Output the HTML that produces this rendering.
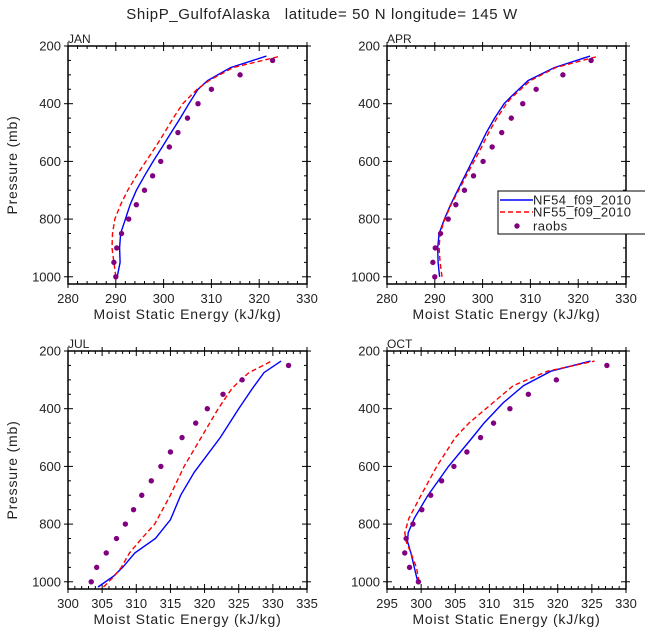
<!DOCTYPE html>
<html><head><meta charset="utf-8"><style>
html,body{margin:0;padding:0;background:#fff;width:645px;height:640px;overflow:hidden}
svg{display:block;font-family:"Liberation Sans",sans-serif;fill:#222}
svg text{white-space:pre}
</style></head><body>
<svg id="c" width="645" height="640">
<text x="322" y="19" text-anchor="middle" font-size="15" letter-spacing="0.6">ShipP_GulfofAlaska   latitude= 50 N longitude= 145 W</text>
</svg>
<script>
const months = ["JAN","APR","JUL","OCT"];
const xRanges = [[280,330],[280,330],[300,335],[295,330]];
const xTickStep = [10,10,5,5];
const yTicks = [200,400,600,800,1000];
const obsP = [1000,950,900,850,800,750,700,650,600,550,500,450,400,350,300,250];
const janObs = [290,289.6,290.2,291.2,292.7,294.3,296,297.7,299.4,301.2,303,305,307.2,310,316,322.8];
const aprObs = [290,289.6,290.1,291.2,292.8,294.4,296.2,298.1,300.1,302,304,306,308.4,311.2,316.8,322.7];
const julObs = [303.4,304.2,305.6,307.1,308.4,309.6,310.8,312.2,313.6,315,316.7,318.7,320.4,322.7,325.5,332.3];
const octObs = [299.6,298.3,297.6,297.8,298.8,300.1,301.4,303,304.8,306.7,308.7,310.6,313,315.7,319.8,327.2];
const janP = [1000,950,900,850,800,750,700,650,600,550,500,450,400,350,320,275,235];
const janBlue = [290.3,290.9,290.8,291,292,293,294.3,296,297.8,299.7,301.6,303.5,305.3,307.2,309.2,314,321.5];
const janRed = [290,289.6,289.2,289.3,289.8,291,292.5,294.3,296.3,298.3,300.2,302,304,307,309.5,314.5,324.5];
const aprP = [1000,950,900,850,800,750,700,650,600,550,500,450,400,380,320,275,235];
const aprBlue = [291,290.7,290.6,290.9,292,293.3,294.8,296.3,297.8,299.3,300.8,302.5,304.5,305.7,309.5,315,322.5];
const aprRed = [291.5,291.1,290.9,291.1,292.1,293.4,295,296.6,298.2,299.8,301.3,303,305,306,310,315.3,324.3];
const julBlueP = [1018,980,950,900,850,785,700,620,500,400,330,275,235];
const julBlue = [304.4,306.7,308,309.8,312.8,315,316.5,318.5,322.3,325,327,328.7,331.2];
const julRedP = [1018,980,950,900,850,800,700,600,500,400,330,300,275,235];
const julRed = [305.2,306.8,307.8,309,310.8,312.7,315,317,319.5,322,324,325.3,326.5,329.8];
const octP = [1000,950,900,860,830,780,700,600,500,450,380,320,270,235];
const octBlue = [299.5,299,298.5,298,298.1,299,301,304,307.5,309.2,312,315,319,324.8];
const octRed = [299.7,299.3,298.5,297.8,297.6,298.2,300,302.3,305,307,310.5,313.5,318.5,325.4];
const series = [
 {bp:janP,b:janBlue,rp:janP,r:janRed,o:janObs},
 {bp:aprP,b:aprBlue,rp:aprP,r:aprRed,o:aprObs},
 {bp:julBlueP,b:julBlue,rp:julRedP,r:julRed,o:julObs},
 {bp:octP,b:octBlue,rp:octP,r:octRed,o:octObs}];
const panelBoxes=[[68,46],[387,46],[68,351],[387,351]];
const NS="http://www.w3.org/2000/svg";
const svg=document.getElementById('c');
function mk(t,a,parent){const e=document.createElementNS(NS,t);for(const k in a)e.setAttribute(k,a[k]);(parent||svg).appendChild(e);return e;}
const W=239,H=238,P0=200,P1=1025;
months.forEach((m,i)=>{
 const [L,T]=panelBoxes[i];const [x0,x1]=xRanges[i];
 const g=mk('g',{});
 
 
 const X=v=>L+(v-x0)/(x1-x0)*W, Y=p=>T+(p-P0)/(P1-P0)*H;
 const box=mk('rect',{x:L,y:T,width:W,height:H,fill:'none',stroke:'#000','stroke-width':1.5},g);
 
 
 for(let p=200;p<=1000;p+=50){const y=Y(p);const maj=p%200==0;const len=maj?5:3;
  mk('line',{x1:L-(maj?4:0),x2:L+len,y1:y,y2:y,stroke:'#000'},g);
  mk('line',{x1:L+W+(maj?4:0),x2:L+W-len,y1:y,y2:y,stroke:'#000'},g);}
 yTicks.forEach(p=>{const t=mk('text',{x:L-7,y:Y(p)+4.5,'text-anchor':'end','font-size':13},g);t.textContent=p;
  
  });
 const minor=xTickStep[i]/5;
 for(let v=x0;v<=x1+1e-6;v+=minor){const x=X(v);const maj=Math.abs(Math.round(v/xTickStep[i])*xTickStep[i]-v)<1e-6;const len=maj?5:3;
  mk('line',{x1:x,x2:x,y1:T+H+(maj?4:0),y2:T+H-len,stroke:'#000'},g);
  mk('line',{x1:x,x2:x,y1:T-(maj?4:0),y2:T+len,stroke:'#000'},g);
  if(maj){const t=mk('text',{x:x,y:T+H+19,'text-anchor':'middle','font-size':13},g);t.textContent=Math.round(v);
   
   }}
 const lab=mk('text',{x:L,y:T-3,'font-size':12},g);lab.textContent=m;
 
 
 const xt=mk('text',{x:L+W/2,y:T+H+35,'text-anchor':'middle','font-size':14,'letter-spacing':0.8},g);xt.textContent='Moist Static Energy (kJ/kg)';
 
 
 if(i%2==0){const yt=mk('text',{x:0,y:0,'text-anchor':'middle','font-size':14,'letter-spacing':0.8,transform:`translate(17,${T+H/2}) rotate(-90)`},g);yt.textContent='Pressure (mb)';
  
  }
 const s=series[i];
 const pts=(ps,vs)=>vs.map((v,k)=>X(v).toFixed(1)+','+Y(ps[k]).toFixed(1)).join(' ');
 const bl=mk('polyline',{points:pts(s.bp,s.b),fill:'none',stroke:'#0000ff','stroke-width':1.4},g);
 
 
 const rl=mk('polyline',{points:pts(s.rp,s.r),fill:'none',stroke:'#ff0000','stroke-width':1.4,'stroke-dasharray':'5,3'},g);
 
 
 s.o.forEach((v,k)=>{const c=mk('circle',{cx:X(v),cy:Y(obsP[k]),r:2.7,fill:'#800080'},g);
  
  });
});
const lg=mk('g',{});


mk('rect',{x:498,y:191,width:160,height:43,fill:'#fff',stroke:'#000','stroke-width':1},lg);
mk('line',{x1:500,x2:533,y1:200,y2:200,stroke:'#0000ff','stroke-width':1.4},lg);
mk('line',{x1:500,x2:533,y1:212,y2:212,stroke:'#ff0000','stroke-width':1.4,'stroke-dasharray':'5,3'},lg);
mk('circle',{cx:517,cy:226,r:2.7,fill:'#800080'},lg);
[['NF54_f09_2010',204.5],['NF55_f09_2010',216.5],['raobs',230.5]].forEach(([t,y])=>{const e=mk('text',{x:533,y:y,'font-size':13,'letter-spacing':0.4},lg);e.textContent=t;
 
 });
</script>
</body></html>
